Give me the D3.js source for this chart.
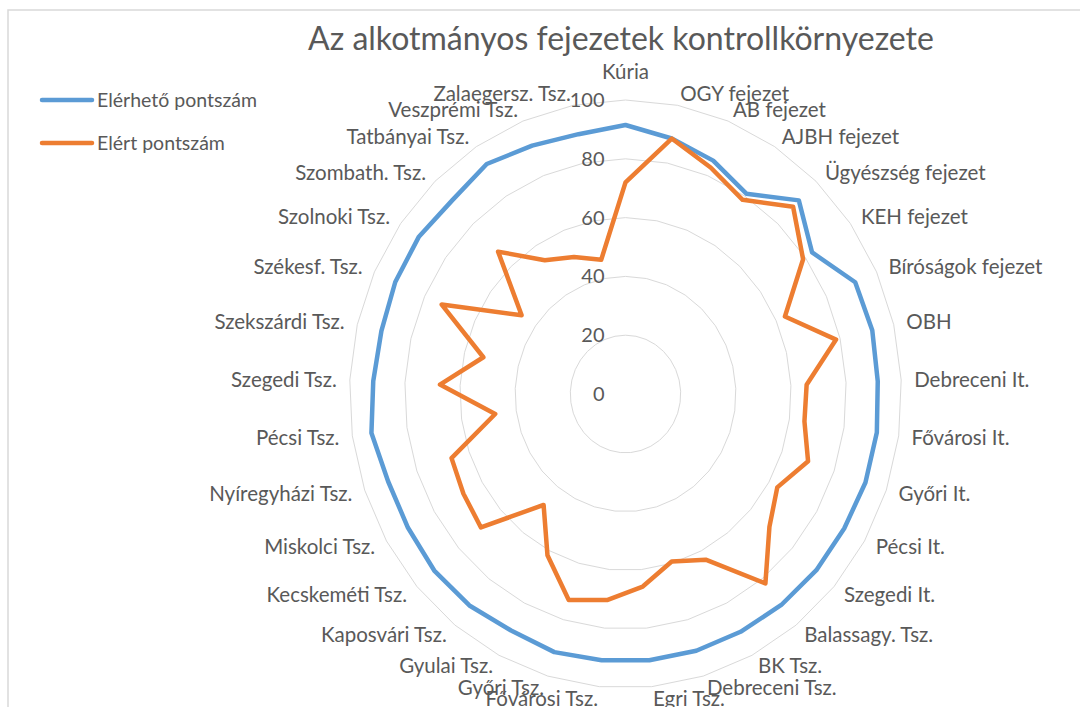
<!DOCTYPE html>
<html>
<head>
<meta charset="utf-8">
<script src="https://cdn.jsdelivr.net/npm/d3@7"></script>
<style>
  html, body { margin: 0; padding: 0; background: #ffffff; }
  svg { display: block; }
  text { font-family: Lato, "Open Sans", sans-serif; fill: #595959; }
</style>
</head>
<body>
<svg id="chart" width="1080" height="707"></svg>
<script>
const categories = ["Kúria","OGY fejezet","AB fejezet","AJBH fejezet","Ügyészség fejezet","KEH fejezet","Bíróságok fejezet","OBH","Debreceni It.","Fővárosi It.","Győri It.","Pécsi It.","Szegedi It.","Balassagy. Tsz.","BK Tsz.","Debreceni Tsz.","Egri Tsz.","Fővárosi Tsz.","Győri Tsz.","Gyulai Tsz.","Kaposvári Tsz.","Kecskeméti Tsz.","Miskolci Tsz.","Nyíregyházi Tsz.","Pécsi Tsz.","Szegedi Tsz.","Szekszárdi Tsz.","Székesf. Tsz.","Szolnoki Tsz.","Szombath. Tsz.","Tatbányai Tsz.","Veszprémi Tsz.","Zalaegersz. Tsz."];

const elerheto = [91.5, 88.5, 85.5, 81, 91, 83, 91.5, 92, 91.5, 92, 92, 91.5, 91.5, 91.3, 91, 91, 91, 91, 91.5, 90.5, 91.5, 91.7, 91, 91, 93, 91.5, 91, 91.7, 92, 91, 93, 91, 90];
const elert = [72, 88.5, 83, 78.5, 88, 79, 63.5, 78.5, 65.7, 65.5, 70, 63.5, 69, 82, 63.4, 59.4, 65.8, 70.4, 73, 61.7, 48, 69.3, 67.8, 66.7, 47.7, 67.3, 53, 73.2, 46.2, 66.9, 54.1, 50.2, 46.5];

const seriesNames = ["Elérhető pontszám", "Elért pontszám"];
const seriesColors = ["#5B9BD5", "#ED7D31"];
const tickValues = [0, 20, 40, 60, 80, 100];
const titleText = "Az alkotmányos fejezetek kontrollkörnyezete";

const svg = d3.select("#chart");
const cx = 625.5, cy = 394;
const rX = d3.scaleLinear().domain([0, 100]).range([0, 276]);
const rY = d3.scaleLinear().domain([0, 100]).range([0, 294]);
const angle = d3.scaleLinear().domain([0, categories.length]).range([0, 2 * Math.PI]);

function pt(i, v) {
  const a = angle(i);
  return [cx + Math.sin(a) * rX(v), cy - Math.cos(a) * rY(v)];
}

// border of chart area
svg.append("path")
  .attr("d", "M8,707 L8,10 L1080,10")
  .attr("fill", "none").attr("stroke", "#d9d9d9").attr("stroke-width", 1.5);

// title
svg.append("text")
  .attr("x", 621).attr("y", 50)
  .attr("text-anchor", "middle")
  .attr("font-size", 32)
  .text(titleText);

// grid polygons
const line = d3.line().curve(d3.curveLinearClosed);
tickValues.filter(t => t > 0).forEach(t => {
  svg.append("path")
    .attr("d", line(categories.map((c, i) => pt(i, t))))
    .attr("fill", "none").attr("stroke", "#d9d9d9").attr("stroke-width", 1);
});

// tick labels
svg.selectAll(".tick").data(tickValues).enter().append("text")
  .attr("x", cx - 21)
  .attr("y", d => cy - rY(d))
  .attr("dy", "0.35em")
  .attr("text-anchor", "end")
  .attr("font-size", 20)
  .text(d => d);

// series
[elerheto, elert].forEach((vals, k) => {
  svg.append("path")
    .attr("d", line(vals.map((v, i) => pt(i, v))))
    .attr("fill", "none")
    .attr("stroke", seriesColors[k])
    .attr("stroke-width", 4.5)
    .attr("stroke-linejoin", "round");
});

// category labels
const LX = 289, LY = 306;
svg.selectAll(".cat").data(categories).enter().append("text")
  .attr("x", (d, i) => cx + Math.sin(angle(i)) * LX)
  .attr("y", (d, i) => {
    const s = Math.sin(angle(i));
    const y = cy - Math.cos(angle(i)) * LY;
    return Math.abs(s) < 0.01 ? y - 16 : y;
  })
  .attr("dy", "0.35em")
  .attr("text-anchor", (d, i) => {
    const s = Math.sin(angle(i));
    return Math.abs(s) < 0.01 ? "middle" : (s > 0 ? "start" : "end");
  })
  .attr("font-size", 20.5)
  .text(d => d);

// legend
const legendY = [100, 143];
seriesNames.forEach((n, k) => {
  svg.append("line")
    .attr("x1", 42).attr("x2", 92)
    .attr("y1", legendY[k]).attr("y2", legendY[k])
    .attr("stroke", seriesColors[k]).attr("stroke-width", 4.5)
    .attr("stroke-linecap", "round");
  svg.append("text")
    .attr("x", 97).attr("y", legendY[k])
    .attr("dy", "0.35em")
    .attr("font-size", 19.5)
    .text(n);
});
</script>
</body>
</html>
